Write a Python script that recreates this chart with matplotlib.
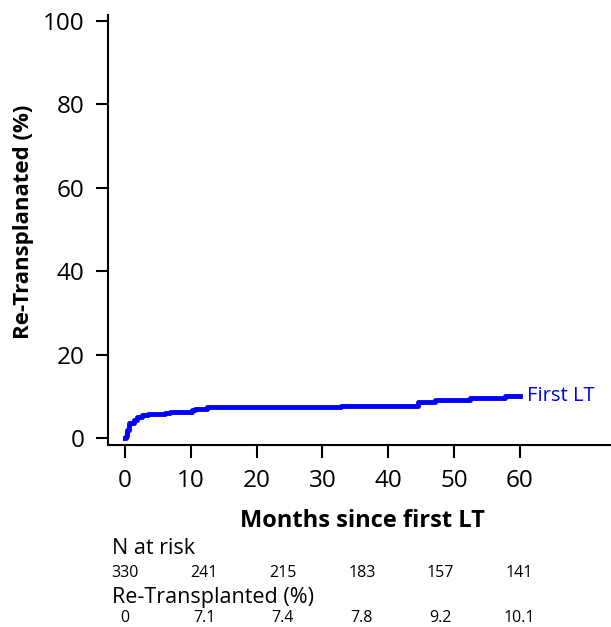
import matplotlib
matplotlib.use("Agg")
import matplotlib.pyplot as plt
import matplotlib.transforms as mtransforms

plt.rcParams['font.family'] = ['Open Sans', 'DejaVu Sans']

# cumulative incidence of re-transplant (step function), months vs %
months = [0, 0.15, 0.25, 0.6, 1.3, 1.8, 2.5, 3.5, 6.1, 6.8, 10.1, 10.6, 12.4,
          32.9, 44.5, 47.1, 52.4, 57.8, 60.0]
retx = [0, 0.5, 2.0, 3.6, 4.4, 5.2, 5.6, 5.85, 6.0, 6.4, 6.8, 7.0, 7.4,
        7.8, 8.7, 9.2, 9.6, 10.1, 10.1]

risk_times = [0, 12, 24, 36, 48, 60]
n_at_risk = ['330', '241', '215', '183', '157', '141']
retx_pct = ['0', '7.1', '7.4', '7.8', '9.2', '10.1']

xticks = [0, 10, 20, 30, 40, 50, 60]
yticks = [0, 20, 40, 60, 80, 100]

fig = plt.figure(figsize=(6.11, 6.27), dpi=100)
ax = fig.add_axes([108/611, 1 - 445/627, 1 - 108/611, (445 - 15)/627])

ax.step(months, retx, where='post', color='#0000ff', linewidth=3.5)
ax.text(61.2, 10.1, 'First LT', color='#0000ff', fontsize=14.5, va='center', ha='left')

ax.set_xlim(-2.6, 73.9)
ax.set_ylim(-1.6, 101.4)
ax.set_xticks(xticks)
ax.set_yticks(yticks)
ax.tick_params(axis='both', length=9, width=1.5, labelsize=17.5, pad=8)
ax.spines['top'].set_visible(False)
ax.spines['right'].set_visible(False)
ax.spines['left'].set_linewidth(1.5)
ax.spines['bottom'].set_linewidth(1.5)

fig.text(362/611, 1 - 521/627, 'Months since first LT', fontsize=17, fontweight='bold',
         ha='center', va='center')
fig.text(24/611, 1 - 222/627, 'Re-Transplanated (%)', fontsize=16, fontweight='bold',
         rotation=90, ha='center', va='center')

# risk table below the plot
trans = mtransforms.blended_transform_factory(ax.transData, fig.transFigure)
fig.text(112/611, 1 - 549/627, 'N at risk', fontsize=15.5, va='center', ha='left')
for t, n in zip(risk_times, n_at_risk):
    ax.text(t, 1 - 573/627, n, transform=trans, fontsize=11.5, ha='center', va='center')
fig.text(112/611, 1 - 597/627, 'Re-Transplanted (%)', fontsize=15.5, va='center', ha='left')
for t, p in zip(risk_times, retx_pct):
    ax.text(t, 1 - 618/627, p, transform=trans, fontsize=11.5, ha='center', va='center')

fig.savefig('out.png', dpi=100)
